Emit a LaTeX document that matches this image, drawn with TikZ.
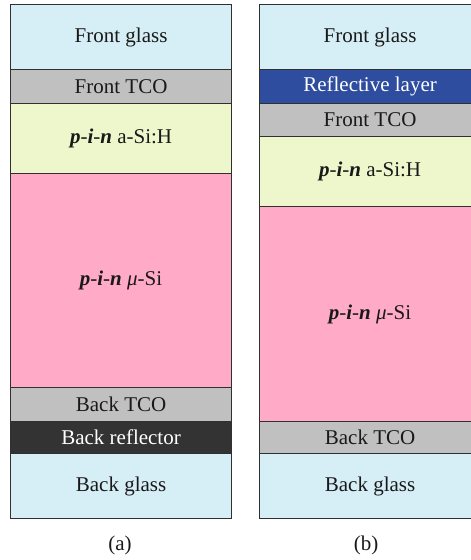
\documentclass[tikz,border=0pt]{standalone}
\usepackage{fontspec}
\setmainfont{Liberation Serif}
\definecolor{glass}{HTML}{D6EEF6}
\definecolor{tco}{HTML}{C0C0C0}
\definecolor{asi}{HTML}{EEF7CC}
\definecolor{musi}{HTML}{FFAAC6}
\definecolor{refl}{HTML}{333333}
\definecolor{reflblue}{HTML}{2F4D9E}
\definecolor{edge}{HTML}{303030}
\newcommand{\pin}{\textbf{\textit{p}}-\textbf{\textit{i}}-\textbf{\textit{n}}}
\tikzset{
  x=1pt, y=-1pt,
  layer/.style={draw=edge, line width=1.1pt, anchor=north west, inner sep=0pt,
    font=\fontsize{21}{24}\selectfont, text=black!90},
  lw/.style={minimum width=221pt},
  caption/.style={font=\fontsize{21}{24}\selectfont, text=black!90}
}
\begin{document}
\begin{tikzpicture}
\useasboundingbox (0,0) rectangle (471,560);
\clip (0,0) rectangle (471,560);
% left stack (a)
\node[layer, lw, fill=glass, minimum height=65pt] (aFG) at (10,4) {Front glass};
\node[layer, lw, fill=tco, minimum height=34pt] (aTCO) at (10,69) {Front TCO};
\node[layer, lw, fill=asi, minimum height=70pt] (aASI) at (10,103) {\pin{} a-Si:H};
\node[layer, lw, fill=musi, minimum height=214pt] (aMU) at (10,173) {\pin{} \textit{μ}-Si};
\node[layer, lw, fill=tco, minimum height=34pt] (aBTCO) at (10,387) {Back TCO};
\node[layer, lw, fill=refl, minimum height=32pt, text=white] (aBR) at (10,421) {Back reflector};
\node[layer, lw, fill=glass, minimum height=65pt] (aBG) at (10,453) {Back glass};
% right stack (b), running past the page edge
\node[layer, lw, fill=glass, minimum height=65pt] (bFG) at (259,4) {Front glass};
\node[layer, lw, fill=reflblue, minimum height=34pt, text=white] (bRL) at (259,69) {Reflective layer};
\node[layer, lw, fill=tco, minimum height=33pt] (bTCO) at (259,103) {Front TCO};
\node[layer, lw, fill=asi, minimum height=70pt] (bASI) at (259,136) {\pin{} a-Si:H};
\node[layer, lw, fill=musi, minimum height=215pt] (bMU) at (259,206) {\pin{} \textit{μ}-Si};
\node[layer, lw, fill=tco, minimum height=32pt] (bBTCO) at (259,421) {Back TCO};
\node[layer, lw, fill=glass, minimum height=65pt] (bBG) at (259,453) {Back glass};
% captions
\node[caption] (capa) at (120,545) {(a)};
\node[caption] (capb) at (366,545) {(b)};
\end{tikzpicture}
\end{document}
